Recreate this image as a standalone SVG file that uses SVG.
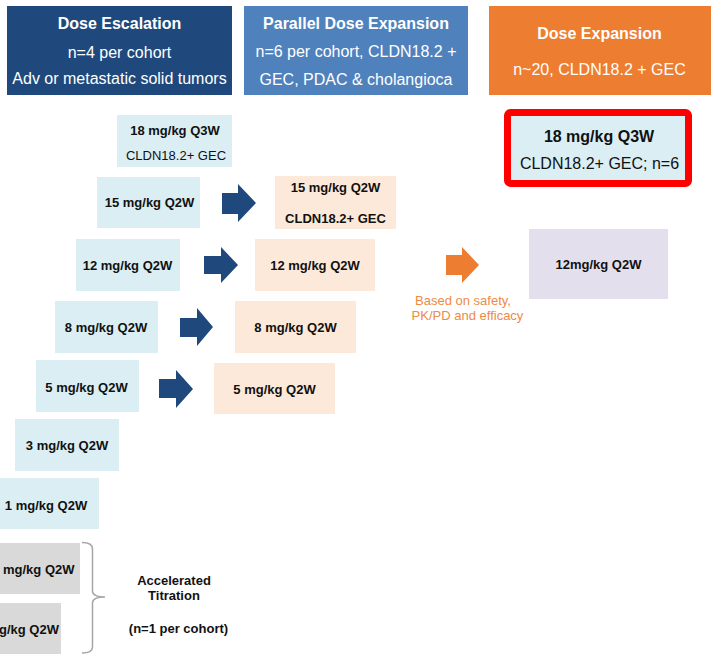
<svg xmlns="http://www.w3.org/2000/svg" width="711" height="654" viewBox="0 0 711 654">
<style>
text{font-family:"Liberation Sans",Arial,sans-serif;text-anchor:middle}
.hd{fill:#fff;font-size:16px}
.b{font-weight:bold}
.lbl{font-size:13px;fill:#111}
.big{font-size:16px;fill:#111}
.blue{fill:#DAEEF3}
.peach{fill:#FDE9D9}
.gray{fill:#D9D9D9}
.lav{fill:#E4DFEC}
.arr{fill:#1F497D}
.oarr{fill:#ED7D31}
.otxt{font-size:13px;fill:#EF8A45}
</style>
<rect width="711" height="654" fill="#fff"/>

<g id="hdr-escalation">
<rect x="7" y="6" width="225" height="89" fill="#1F497D"/>
<text class="hd b" x="119.5" y="29">Dose Escalation</text>
<text class="hd" x="119.5" y="57.5">n=4 per cohort</text>
<text class="hd" x="119.5" y="84">Adv or metastatic solid tumors</text>
</g>
<g id="hdr-parallel">
<rect x="244" y="6" width="224" height="89" fill="#4F81BD"/>
<text class="hd b" x="356" y="29">Parallel Dose Expansion</text>
<text class="hd" x="356" y="57">n=6 per cohort, CLDN18.2 +</text>
<text class="hd" x="356" y="84.5">GEC, PDAC &amp; cholangioca</text>
</g>
<g id="hdr-expansion">
<rect x="489" y="6" width="222" height="89" fill="#ED7D31"/>
<text class="hd b" x="599.5" y="39">Dose Expansion</text>
<text class="hd" x="599.5" y="75">n~20, CLDN18.2 + GEC</text>
</g>

<g id="esc-18">
<rect class="blue" x="117" y="115" width="115" height="52"/>
<text class="lbl b" x="175" y="134.5">18 mg/kg Q3W</text>
<text class="lbl" x="176" y="159.5">CLDN18.2+ GEC</text>
</g>
<g id="esc-15">
<rect class="blue" x="97" y="177" width="103" height="51"/>
<text class="lbl b" x="149.5" y="206.5">15 mg/kg Q2W</text>
</g>
<g id="esc-12">
<rect class="blue" x="76" y="239" width="104" height="52"/>
<text class="lbl b" x="127.5" y="269.5">12 mg/kg Q2W</text>
</g>
<g id="esc-8">
<rect class="blue" x="55" y="301" width="103" height="52"/>
<text class="lbl b" x="106" y="331.5">8 mg/kg Q2W</text>
</g>
<g id="esc-5">
<rect class="blue" x="36" y="360" width="103" height="52"/>
<text class="lbl b" x="86.5" y="391.5">5 mg/kg Q2W</text>
</g>
<g id="esc-3">
<rect class="blue" x="15" y="419" width="104" height="52"/>
<text class="lbl b" x="67" y="449.5">3 mg/kg Q2W</text>
</g>
<g id="esc-1">
<rect class="blue" x="-6" y="478" width="105" height="51"/>
<text class="lbl b" x="46" y="509.5">1 mg/kg Q2W</text>
</g>
<g id="acc-a">
<rect class="gray" x="-30" y="543" width="110" height="51"/>
<text class="lbl b" x="3" y="573.5" style="text-anchor:start">mg/kg Q2W</text>
</g>
<g id="acc-b">
<rect class="gray" x="-30" y="603" width="91" height="51"/>
<text class="lbl b" x="-1" y="633.5" style="text-anchor:start">g/kg Q2W</text>
</g>

<g id="par-15">
<rect class="peach" x="275" y="176" width="121" height="53"/>
<text class="lbl b" x="335.5" y="191.5">15 mg/kg Q2W</text>
<text class="lbl b" x="335.5" y="222.5">CLDN18.2+ GEC</text>
</g>
<g id="par-12">
<rect class="peach" x="255" y="239" width="120" height="52"/>
<text class="lbl b" x="315" y="269.5">12 mg/kg Q2W</text>
</g>
<g id="par-8">
<rect class="peach" x="235" y="301" width="121" height="52"/>
<text class="lbl b" x="295.5" y="331.5">8 mg/kg Q2W</text>
</g>
<g id="par-5">
<rect class="peach" x="214" y="363" width="121" height="51"/>
<text class="lbl b" x="274.5" y="393.5">5 mg/kg Q2W</text>
</g>

<g id="exp-18">
<rect x="507.5" y="112.5" width="181" height="71" rx="3" fill="#DAEEF3" stroke="#FF0000" stroke-width="7"/>
<text class="big b" x="599" y="141.5">18 mg/kg Q3W</text>
<text class="big" x="599.5" y="168.5">CLDN18.2+ GEC; n=6</text>
</g>
<g id="exp-12">
<rect class="lav" x="529" y="229" width="139" height="70"/>
<text class="lbl b" x="598.5" y="268.5">12mg/kg Q2W</text>
</g>

<g id="connectors">
<polygon class="arr" points="222,193 238,193 238,184 256,203 238,222 238,214 222,214"/>
<polygon class="arr" points="204,256 221,256 221,247 238,265 221,283 221,274 204,274"/>
<polygon class="arr" points="180,318 197,318 197,308 213,327 197,346 197,337 180,337"/>
<polygon class="arr" points="159,379 176,379 176,370 193,389 176,408 176,398 159,398"/>
<polygon class="oarr" points="446,255 462,255 462,247 479,265 462,283 462,275 446,275"/>
<text class="otxt" x="463" y="304.5">Based on safety,</text>
<text class="otxt" x="467.5" y="320">PK/PD and efficacy</text>
</g>

<g id="titration">
<path d="M82,542.5 Q92.5,542.5 92.5,549 L92.5,591 Q92.5,597 105,597 Q92.5,597 92.5,603 L92.5,647 Q92.5,653 82,653" fill="none" stroke="#A6A6A6" stroke-width="1.5"/>
<text class="lbl b" x="174" y="584.5">Accelerated</text>
<text class="lbl b" x="174" y="599.5">Titration</text>
<text class="lbl b" x="178.5" y="632.5">(n=1 per cohort)</text>
</g>
</svg>
